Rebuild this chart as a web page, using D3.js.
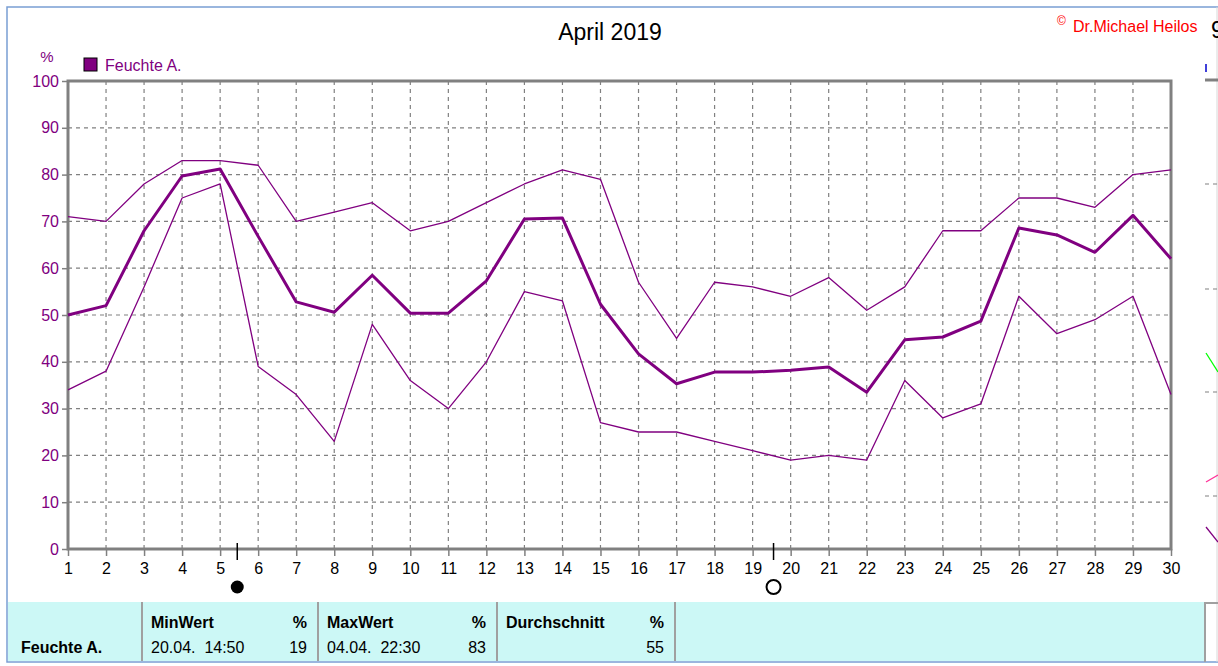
<!DOCTYPE html>
<html>
<head>
<meta charset="utf-8">
<script src="https://cdn.jsdelivr.net/npm/d3@7"></script>
<style>
  body { margin: 0; background: #fff; }
  svg { display: block; font-family: "Liberation Sans", Arial, sans-serif; }
</style>
</head>
<body>
<div id="chart"></div>
<script>
// Werte
const days = d3.range(1, 31);
const maxVals = [71, 70, 78, 83, 83, 82, 70, 72, 74, 68, 70, 74, 78, 81, 79, 57, 45, 57, 56, 54, 58, 51, 56, 68, 68, 75, 75, 73, 80, 81];
const meanVals = [50, 52, 68, 79.7, 81.2, 66.8, 52.8, 50.6, 58.5, 50.4, 50.4, 57.3, 70.5, 70.7, 52.3, 41.7, 35.3, 37.8, 37.8, 38.2, 38.9, 33.5, 44.7, 45.3, 48.7, 68.6, 67.1, 63.4, 71.3, 62];
const minVals = [34, 38, 56, 75, 78, 39, 33, 23, 48, 36, 30, 40, 55, 53, 27, 25, 25, 23, 21, 19, 20, 19, 36, 28, 31, 54, 46, 49, 54, 33];
const yTicks = d3.range(0, 101, 10);
const newMoon = [5.45];
const fullMoon = [19.55];

const tableHead = ["MinWert", "MaxWert", "Durchschnitt"];
const tableDate = ["20.04.  14:50", "04.04.  22:30", ""];
const tableVal = ["19", "83", "55"];

const width = 1218, height = 666;
const purple = "#800080";
const grey = "#808080";

const svg = d3.select("#chart").append("svg")
    .attr("width", width).attr("height", height);

const x = d3.scaleLinear().domain([1, 30]).range([68, 1171]);
const y = d3.scaleLinear().domain([0, 100]).range([549, 81]);

// Fensterrahmen
svg.append("path")
    .attr("d", "M1218,7H7V662H1218")
    .attr("fill", "none").attr("stroke", "#7a9fd4").attr("stroke-width", 1.5);

// Titel
svg.append("text").attr("x", 610).attr("y", 40).attr("text-anchor", "middle")
    .attr("font-size", 23).attr("fill", "#000").text("April 2019");
svg.append("text").attr("x", 1057).attr("y", 25).attr("font-size", 12)
    .attr("fill", "#ff0000").text("©");
svg.append("text").attr("x", 1073).attr("y", 32).attr("font-size", 16)
    .attr("fill", "#ff0000").text("Dr.Michael Heilos");

// Gitter
const grid = svg.append("g");
grid.selectAll(".vg").data(days.slice(1, -1)).enter().append("line")
    .attr("x1", d => x(d)).attr("x2", d => x(d))
    .attr("y1", y(100)).attr("y2", y(0))
    .attr("stroke", grey).attr("stroke-width", 1.2).attr("stroke-dasharray", "4,4");
grid.selectAll(".hg").data(yTicks.slice(1, -1)).enter().append("line")
    .attr("x1", x(1)).attr("x2", x(30))
    .attr("y1", d => y(d)).attr("y2", d => y(d))
    .attr("stroke", grey).attr("stroke-width", 1.2).attr("stroke-dasharray", "4,4");

// Achsen
const yAxis = svg.append("g").attr("transform", "translate(68,0)")
    .call(d3.axisLeft(y).tickValues(yTicks).tickSize(6).tickPadding(3));
yAxis.select(".domain").remove();
yAxis.selectAll("line").attr("stroke", grey).attr("stroke-width", 1.5);
yAxis.selectAll("text").attr("fill", purple).attr("font-size", 16)
    .attr("font-family", "Liberation Sans, Arial, sans-serif");

const xAxis = svg.append("g").attr("transform", "translate(0,549)")
    .call(d3.axisBottom(x).tickValues(days).tickSize(7).tickPadding(7).tickFormat(d3.format("d")));
xAxis.select(".domain").remove();
xAxis.selectAll("line").attr("stroke", grey).attr("stroke-width", 1.5);
xAxis.selectAll("text").attr("fill", "#000").attr("font-size", 16)
    .attr("font-family", "Liberation Sans, Arial, sans-serif");

svg.append("rect")
    .attr("x", x(1)).attr("y", y(100))
    .attr("width", x(30) - x(1)).attr("height", y(0) - y(100))
    .attr("fill", "none").attr("stroke", grey).attr("stroke-width", 3);

svg.append("text").attr("x", 47).attr("y", 62).attr("text-anchor", "middle")
    .attr("font-size", 15).attr("fill", purple).text("%");

// Legende
svg.append("rect").attr("x", 84).attr("y", 58).attr("width", 13).attr("height", 13)
    .attr("fill", purple).attr("stroke", "#000").attr("stroke-width", 1);
svg.append("text").attr("x", 105).attr("y", 71).attr("font-size", 16)
    .attr("fill", purple).text("Feuchte A.");

// Linien
const line = d3.line().x((d, i) => x(days[i])).y(d => y(d));
[[maxVals, 1.3], [minVals, 1.3], [meanVals, 3]].forEach(function (s) {
    svg.append("path").datum(s[0])
        .attr("d", line)
        .attr("fill", "none").attr("stroke", purple)
        .attr("stroke-width", s[1]).attr("stroke-linejoin", "round");
});

// Mondphasen
svg.selectAll(".moonline").data(newMoon.concat(fullMoon)).enter().append("line")
    .attr("x1", d => x(d)).attr("x2", d => x(d))
    .attr("y1", 543).attr("y2", 560)
    .attr("stroke", "#000").attr("stroke-width", 1.5);
svg.selectAll(".nm").data(newMoon).enter().append("circle")
    .attr("cx", d => x(d)).attr("cy", 587).attr("r", 6.5).attr("fill", "#000");
svg.selectAll(".fm").data(fullMoon).enter().append("circle")
    .attr("cx", d => x(d)).attr("cy", 587).attr("r", 7)
    .attr("fill", "none").attr("stroke", "#000").attr("stroke-width", 2);

// Tabelle
const tbl = svg.append("g");
tbl.append("rect").attr("x", 8).attr("y", 602).attr("width", 1197).attr("height", 59)
    .attr("fill", "#ccf8f6");
const colX = [142, 318, 497, 675];
tbl.selectAll(".sep").data(colX).enter().append("line")
    .attr("x1", d => d).attr("x2", d => d).attr("y1", 602).attr("y2", 661)
    .attr("stroke", "#a0a0a0").attr("stroke-width", 2);
tbl.append("text").attr("x", 21).attr("y", 653).attr("font-size", 16)
    .attr("font-weight", "bold").text("Feuchte A.");
tableHead.forEach(function (h, i) {
    const x0 = colX[i] + 9, x1 = colX[i + 1] - 11;
    tbl.append("text").attr("x", x0).attr("y", 628).attr("font-size", 16)
        .attr("font-weight", "bold").text(h);
    tbl.append("text").attr("x", x1).attr("y", 628).attr("font-size", 16)
        .attr("font-weight", "bold").attr("text-anchor", "end").text("%");
    tbl.append("text").attr("x", x0).attr("y", 653).attr("font-size", 16)
        .attr("xml:space", "preserve").text(tableDate[i]);
    tbl.append("text").attr("x", x1).attr("y", 653).attr("font-size", 16)
        .attr("text-anchor", "end").text(tableVal[i]);
});

// angeschnittenes Nachbarfenster rechts
const side = svg.append("g");
side.append("line").attr("x1", 1217).attr("x2", 1217).attr("y1", 7).attr("y2", 662)
    .attr("stroke", "#d8d8d8").attr("stroke-width", 1);
side.append("text").attr("x", 1211).attr("y", 38).attr("font-size", 23).text("9");
side.append("line").attr("x1", 1206).attr("x2", 1206).attr("y1", 64).attr("y2", 72)
    .attr("stroke", "#0000cc").attr("stroke-width", 1.5);
side.append("line").attr("x1", 1205).attr("x2", 1218).attr("y1", 80).attr("y2", 80)
    .attr("stroke", grey).attr("stroke-width", 3);
side.selectAll(".sd").data([184, 289, 392, 496]).enter().append("line")
    .attr("x1", 1205).attr("x2", 1218).attr("y1", d => d).attr("y2", d => d)
    .attr("stroke", grey).attr("stroke-width", 1.2).attr("stroke-dasharray", "4,4");
side.append("line").attr("x1", 1206).attr("y1", 353).attr("x2", 1218).attr("y2", 372)
    .attr("stroke", "#00ff00").attr("stroke-width", 1.3);
side.append("line").attr("x1", 1206).attr("y1", 482).attr("x2", 1218).attr("y2", 475)
    .attr("stroke", "#ff3399").attr("stroke-width", 1.3);
side.append("line").attr("x1", 1206).attr("y1", 527).attr("x2", 1218).attr("y2", 542)
    .attr("stroke", purple).attr("stroke-width", 1.3);
side.append("path").attr("d", "M1218,603H1205V662")
    .attr("fill", "none").attr("stroke", "#a0a0a0").attr("stroke-width", 2);
</script>
</body>
</html>
